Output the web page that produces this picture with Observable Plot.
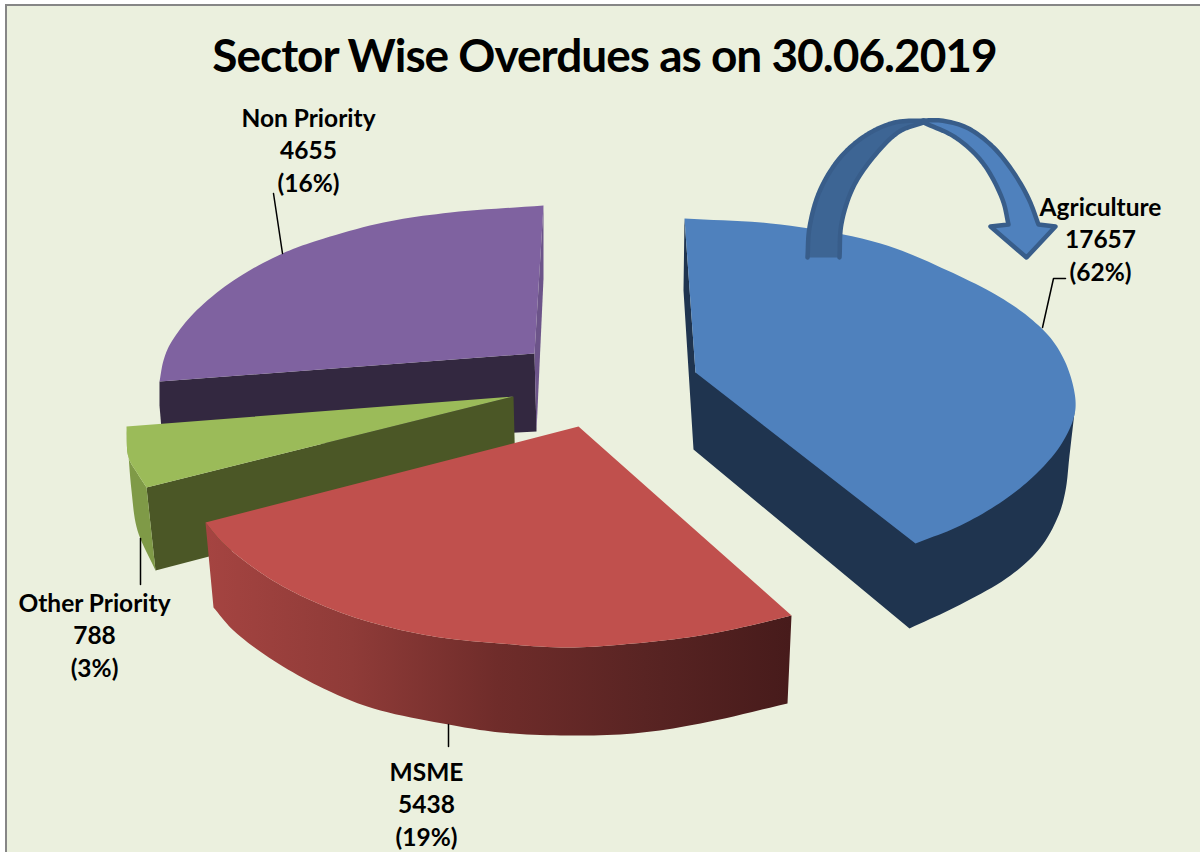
<!DOCTYPE html>
<html><head><meta charset="utf-8">
<script src="https://cdn.jsdelivr.net/npm/d3@7"></script>
<script src="https://cdn.jsdelivr.net/npm/@observablehq/plot@0.6"></script>
<style>html,body{margin:0;padding:0;background:#fff}svg{display:block}.chart-title text{letter-spacing:-1px}</style>
</head><body><div id="chart"></div>
<script>
// ---- values printed on the chart
const titleText = "Sector Wise Overdues as on 30.06.2019";
const sectors = ["Agriculture", "MSME", "Other Priority", "Non Priority"];
const overdues = [17657, 5438, 788, 4655];
const shares = [62, 19, 3, 16];

// ---- shape of each 3D slice (chart-space outline knots)
const agriTopRim = [[684,218],[780,224],[880,243],[947,270],[1000,297],[1030,318],[1052,340],[1067,367],[1075,400],[1073,418],[1060,445],[1035,474],[1003,500],[960,525],[915,543]];
const agriBaseRim = [[909,628],[960,604],[1010,575],[1040,547],[1058,515],[1065,490],[1069,455],[1074,412]];
const agriHub = [695,372], agriHubBase = [693,449], agriBackBase = [683,290];
const msmeTopRim = [[205,522],[223,543],[257,570],[290,590],[340,612],[390,627],[440,637],[500,643],[567,647],[633,643],[700,635],[750,625],[791,615]];
const msmeBaseRim = [[213,607],[233,630],[273,660],[323,688],[373,708],[448,724],[500,732],[567,735],[633,733],[700,723],[787,703]];
const msmeHub = [578,426];
const otherTopRim = [[126,426],[128,457],[137,473],[146,487]];
const otherBaseRim = [[126,426],[131,490],[137,530],[155,570]];
const otherHub = [513,396], otherCutBase = [[515,476],[155,570]];
const nonTopRim = [[543,205],[450,212],[383,222],[317,240],[282,253],[233,280],[193,313],[170,343],[163,360],[159,381]];
const nonHub = [534,353], nonCutBase = [[536,431],[163,452]], nonBackBase = [[543,278],[536,431]];

// ---- curved call-out arrow
const arrowOuterLeft = [[807,257],[809,227],[819,191],[839,158],[865,135],[894,122],[923,120]];
const arrowInnerLeft = [[923,122],[899,131],[875,154],[853,186],[841,223],[839,257]];
const arrowOuterRight = [[923,120],[940,120],[966,127],[991,145],[1011,169],[1028,198],[1038,224]];
const arrowInnerRight = [[1008,224],[1002,199],[982,162],[955,137],[923,122]];
const arrowHead = [[1055,226],[1026,257],[990,226]];

// ---- leaders and label anchors
const leaders = [
  [[1042,327],[1053,278],[1065,278]],
  [[448,724],[448,746]],
  [[140,538],[140,584]],
  [[282,253],[273,193]]
];
const labelX = [1100, 426, 94, 308];
const labelY = [237.5, 802.5, 633.5, 148.5];

const colors = {panel:"#EBF0DE", frame:"#868686",
  agri:"#4F81BD", agriDark:"#1F344F",
  msme:"#C0504D",
  other:"#9BBB59", otherDark:"#4B5726", otherRim:"#7F9A47",
  non:"#7F62A0", nonDark:"#332840", nonRim:"#6C5489",
  arrowDark:"#3D6594", arrowStroke:"#385D8A"};

// centripetal Catmull-Rom through the knots
function spline(k, n = 10) {
  if (k.length < 3) return k.slice();
  const P = [[2*k[0][0]-k[1][0], 2*k[0][1]-k[1][1]], ...k,
             [2*k[k.length-1][0]-k[k.length-2][0], 2*k[k.length-1][1]-k[k.length-2][1]]];
  const lerp = (a,b,u)=>[a[0]+(b[0]-a[0])*u, a[1]+(b[1]-a[1])*u];
  const gap = (a,b)=>Math.sqrt(Math.hypot(a[0]-b[0],a[1]-b[1]))||1e-6;
  const out = [];
  for (let i = 1; i < P.length-2; i++) {
    const [p0,p1,p2,p3] = [P[i-1],P[i],P[i+1],P[i+2]];
    const t1 = gap(p0,p1), t2 = t1+gap(p1,p2), t3 = t2+gap(p2,p3);
    for (let j = 0; j < n; j++) {
      const t = t1+(t2-t1)*j/n;
      const a1 = lerp(p0,p1,t/t1), a2 = lerp(p1,p2,(t-t1)/(t2-t1)), a3 = lerp(p2,p3,(t-t2)/(t3-t2));
      const b1 = lerp(a1,a2,t/t2), b2 = lerp(a2,a3,(t-t1)/(t3-t1));
      out.push(lerp(b1,b2,(t-t1)/(t2-t1)));
    }
  }
  out.push(k[k.length-1]);
  return out;
}
const rim = (k) => spline(k);
const back = (k) => spline(k).reverse();
const shape = (pts, fill, extra = {}) =>
  Plot.line(pts, {x: d => d[0], y: d => d[1], fill, stroke: "none", curve: "linear", ...extra});

const labelRows = sectors.map((s,i) => ({text:`${s}\n${overdues[i]}\n(${shares[i]}%)`, x:labelX[i], y:labelY[i]}));

// gradient of the MSME outer wall, placed through the x scale
const gradientDefs = (index, scales) => {
  const defs = d3.create("svg:defs");
  const g = defs.append("linearGradient").attr("id","msmeWall").attr("gradientUnits","userSpaceOnUse")
    .attr("x1",scales.x(205)).attr("x2",scales.x(790)).attr("y1",0).attr("y2",0);
  [[0,"#A54441"],[0.25,"#8F3B38"],[0.5,"#6F2C2A"],[0.75,"#592423"],[1,"#471B1B"]]
    .forEach(([o,c])=>g.append("stop").attr("offset",o).attr("stop-color",c));
  return defs.node();
};

const chart = Plot.plot({
  width: 1200, height: 852, margin: 0,
  x: {domain:[0,1200], range:[0,1200], axis:null},
  y: {domain:[0,852], range:[0,852], axis:null},
  style: {background:"#fff", fontFamily:"Lato, sans-serif"},
  marks: [
    gradientDefs,
    Plot.rect([{x1:6,x2:1215,y1:5,y2:870}], {x1:"x1",x2:"x2",y1:"y1",y2:"y2",fill:colors.panel,stroke:colors.frame,strokeWidth:2}),

    // Non Priority
    shape([nonHub, nonTopRim[nonTopRim.length-1], [159,405], nonCutBase[1], nonCutBase[0]], colors.nonDark),
    shape([nonTopRim[0], ...nonBackBase, nonHub], colors.nonRim),
    shape([nonHub, ...rim(nonTopRim)], colors.non),

    // Other Priority
    shape([otherHub, otherTopRim[3], otherCutBase[1], otherCutBase[0]], colors.otherDark),
    shape([...rim(otherBaseRim), ...back(otherTopRim)], colors.otherRim),
    shape([otherHub, ...rim(otherTopRim)], colors.other),

    // MSME
    shape([...rim(msmeTopRim), ...back(msmeBaseRim)], "url(#msmeWall)"),
    shape([msmeHub, ...rim(msmeTopRim)], colors.msme),

    // Agriculture
    shape([agriTopRim[0], agriBackBase, agriHubBase, ...rim(agriBaseRim), agriHub], colors.agriDark),
    shape([agriHub, ...rim(agriTopRim)], colors.agri),

    // arrow
    shape([...rim(arrowOuterLeft), ...rim(arrowInnerLeft)], colors.arrowDark, {stroke:colors.arrowStroke, strokeWidth:4.5, strokeLinejoin:"round"}),
    shape([...rim(arrowOuterRight), ...arrowHead, ...rim(arrowInnerRight)], colors.agri, {stroke:colors.arrowStroke, strokeWidth:4.5, strokeLinejoin:"round"}),

    // leaders
    ...leaders.map(l => Plot.line(l, {x:d=>d[0], y:d=>d[1], stroke:"#000", strokeWidth:1.5})),

    // labels
    Plot.text(labelRows, {x:"x", y:"y", text:"text", fontSize:24.5, fontWeight:700, fill:"#000", lineHeight:1.33, textAnchor:"middle", lineAnchor:"middle"}),
    Plot.text([titleText], {x:()=>604, y:()=>57, text:d=>d, fontSize:46, fontWeight:700, fill:"#000", textAnchor:"middle", lineAnchor:"middle", className:"chart-title"})
  ]
});
document.getElementById("chart").appendChild(chart);
</script></body></html>
